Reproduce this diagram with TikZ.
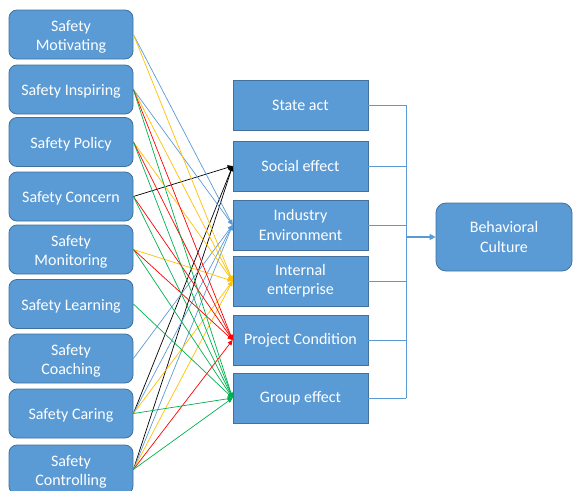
\documentclass[tikz,border=0pt]{standalone}
\usepackage{fontspec}
\setmainfont{Carlito}
\usetikzlibrary{arrows.meta}
\definecolor{boxfill}{HTML}{5B9BD5}
\definecolor{boxedge}{HTML}{41719C}
\definecolor{linkblue}{HTML}{5B9BD5}
\definecolor{linkgold}{HTML}{FFC000}
\definecolor{linkred}{HTML}{FF0000}
\definecolor{linkgreen}{HTML}{00B050}
% box caption lowered a little, keeping its reported size
\newcommand\lowtext[1]{\raisebox{-2.5pt}[\height][\depth]{\begin{tabular}{@{}c@{}}#1\end{tabular}}}
\begin{document}
\begin{tikzpicture}[x=1pt,y=-1pt,
  boxtext/.style={text=white, align=center, inner sep=0pt,
    font=\fontsize{16}{19.3}\selectfont},
  factor/.style={boxtext, draw=boxedge, fill=boxfill, line width=0.8pt,
    rounded corners=8pt, minimum width=124pt, minimum height=49pt},
  aspect/.style={boxtext, draw=boxedge, fill=boxfill, line width=0.8pt,
    minimum width=135pt, minimum height=50pt},
  outcome/.style={boxtext, draw=boxedge, fill=boxfill, line width=0.8pt,
    rounded corners=10pt, minimum width=136pt, minimum height=68pt},
  link/.style={line width=0.7pt, -{Triangle[length=5pt,width=4.5pt]}},
  bus/.style={draw=linkblue, line width=0.8pt},
  busarrow/.style={draw=linkblue, line width=2pt,
    -{Triangle[length=6pt,width=6pt]}}
]
\clip (0,0) rectangle (573,490);

% safety behaviours (left column)
\node[factor] (mot) at (71,34.5)  {\lowtext{Safety\\Motivating}};
\node[factor] (ins) at (71,89.5)  {\lowtext{Safety Inspiring}};
\node[factor] (pol) at (71,142)   {\lowtext{Safety Policy}};
\node[factor] (con) at (71,196.5) {\lowtext{Safety Concern}};
\node[factor] (mon) at (71,249.5) {\lowtext{Safety\\Monitoring}};
\node[factor] (lea) at (71,304)   {\lowtext{Safety Learning}};
\node[factor] (coa) at (71,358.5) {\lowtext{Safety\\Coaching}};
\node[factor] (car) at (71,413.5) {\lowtext{Safety Caring}};
\node[factor] (ctl) at (71,469.5) {\lowtext{Safety\\Controlling}};

% influencing aspects (middle column)
\node[aspect] (sta) at (300.5,105) {State act};
\node[aspect] (soc) at (300.5,166) {Social effect};
\node[aspect] (ind) at (300.5,225) {Industry\\Environment};
\node[aspect] (int) at (300.5,281) {Internal\\enterprise};
\node[aspect] (pro) at (300.5,340) {Project Condition};
\node[aspect] (grp) at (300.5,398) {Group effect};

% result
\node[outcome] (cul) at (504,237) {Behavioral\\Culture};

% links to Social effect
\foreach \s in {con,car,ctl}
  \draw[link, black] (\s.east) -- (soc.west);
% links to Industry Environment
\foreach \s in {mot,ins,coa,car,ctl}
  \draw[link, linkblue] (\s.east) -- (ind.west);
% links to Internal enterprise
\foreach \s in {mot,ins,pol,mon,car,ctl}
  \draw[link, linkgold] (\s.east) -- (int.west);
% links to Project Condition
\foreach \s in {ins,pol,con,mon,ctl}
  \draw[link, linkred] (\s.east) -- (pro.west);
% links to Group effect
\foreach \s in {ins,pol,con,mon,lea,car,ctl}
  \draw[link, linkgreen] (\s.east) -- (grp.west);

% collecting bracket
\coordinate (busx) at (406,0);
\foreach \t in {sta,soc,ind,int,pro,grp}
  \draw[bus] (\t.east) -- (\t.east -| busx);
\draw[bus] (sta.east -| busx) -- (grp.east -| busx);
\coordinate (busout) at (cul.west -| busx);
\draw[busarrow] (busout) -- (cul.west);
\end{tikzpicture}
\end{document}
